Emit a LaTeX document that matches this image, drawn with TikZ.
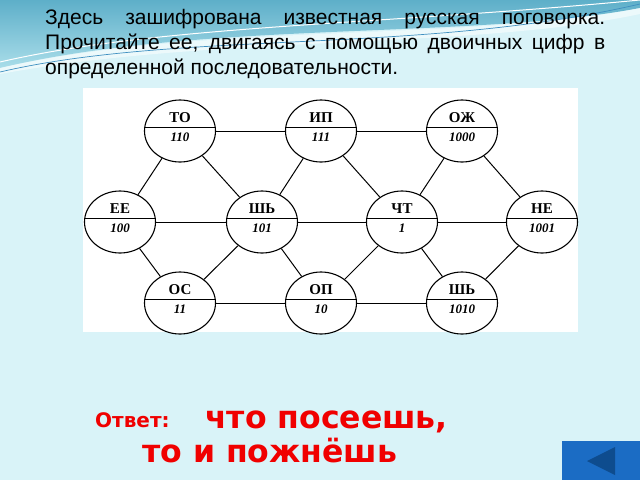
\documentclass[tikz,border=0pt]{standalone}
\usepackage{fontspec}
\setmainfont{Liberation Sans}
\newfontfamily\serifnode{Liberation Serif}
\newfontfamily\answerfont{DejaVu Sans}
\usepackage{tikz}
\usetikzlibrary{shapes.geometric, calc}

\definecolor{bgcyan}{HTML}{D9F3F8}
\definecolor{waveteal}{HTML}{5EAFC9}
\definecolor{wavelight}{HTML}{A9DDE9}
\definecolor{waveline}{HTML}{3E8FC0}
\definecolor{btnblue}{HTML}{1B6CC4}
\definecolor{btndark}{HTML}{0E4C8E}
\definecolor{answerred}{HTML}{F00000}

% one syllable circle: name, position, syllable, binary code
\newcommand{\wordcircle}[4]{%
  \node[word] (#1) at (#2) {};
  \draw[divider] ([yshift=4pt]#1.west) -- ([yshift=4pt]#1.east);
  \node[syll] (#1-s) at ($(#1)+(0,-9)$) {#3};
  \node[code] (#1-c) at ($(#1)+(0,10)$) {#4};
}

\begin{document}
\begin{tikzpicture}[x=1pt, y=-1pt,
    word/.style={ellipse, draw, line width=1.1pt, fill=white, minimum width=71pt, minimum height=62pt, inner sep=0pt},
    divider/.style={line width=1pt},
    syll/.style={font=\serifnode\bfseries\fontsize{15}{16}\selectfont, inner sep=0pt, anchor=base},
    code/.style={font=\serifnode\bfseries\itshape\fontsize{13}{14}\selectfont, inner sep=0pt, anchor=base},
    link/.style={line width=1pt},
    answer/.style={anchor=base west, inner sep=0pt, text=answerred}
]
\useasboundingbox (0,0) rectangle (640,480);

% slide background
\fill[bgcyan] (0,0) rectangle (640,480);
\shade[top color=waveteal, bottom color=wavelight]
  (0,0) -- (640,0) -- (640,8) .. controls (470,40) and (200,20) .. (0,68) -- cycle;
\fill[white, opacity=0.5] (0,68) .. controls (200,22) and (470,42) .. (640,8)
  -- (640,14) .. controls (470,50) and (220,34) .. (0,74) -- cycle;
\draw[waveline, line width=0.7pt] (0,72) .. controls (180,30) and (420,55) .. (640,4);
\draw[white, line width=1pt] (0,62) .. controls (160,25) and (380,25) .. (640,0);

% task text
\node[anchor=north west, inner sep=0pt, text width=560pt, align=justify,
      font=\fontsize{21}{25}\selectfont] (task) at (45,9)
  {\hyphenpenalty=10000\relax
   Здесь зашифрована известная русская поговорка.\linebreak
   Прочитайте ее, двигаясь с помощью двоичных цифр в\linebreak
   определенной последовательности.};

% diagram panel
\fill[white] (83,88) rectangle (578,332);

\wordcircle{to}{180,131}{ТО}{110}
\wordcircle{ip}{321,131}{ИП}{111}
\wordcircle{ozh}{462,131}{ОЖ}{1000}
\wordcircle{ee}{120,222}{ЕЕ}{100}
\wordcircle{shb}{262,222}{ШЬ}{101}
\wordcircle{cht}{402,222}{ЧТ}{1}
\wordcircle{ne}{542,222}{НЕ}{1001}
\wordcircle{os}{180,303}{ОС}{11}
\wordcircle{op}{321,303}{ОП}{10}
\wordcircle{shbb}{462,303}{ШЬ}{1010}

\foreach \a/\b in {to/ip, ip/ozh, ee/shb, shb/cht, cht/ne, os/op, op/shbb,
                   to/ee, to/shb, ip/shb, ip/cht, ozh/cht, ozh/ne,
                   ee/os, shb/os, shb/op, cht/op, cht/shbb, ne/shbb}
  \draw[link] (\a) -- (\b);

% answer
\node[answer, font=\answerfont\bfseries\fontsize{20}{22}\selectfont] (label) at (95,427) {Ответ:};
\node[answer, font=\answerfont\bfseries\fontsize{31.5}{34}\selectfont] (line1) at (205,428) {что посеешь,};
\node[answer, font=\answerfont\bfseries\fontsize{31.5}{34}\selectfont] (line2) at (142,462) {то и пожнёшь};

% back button
\fill[btnblue] (562,441) rectangle (640,480);
\fill[btndark] (587,461) -- (615,447) -- (615,475) -- cycle;
\end{tikzpicture}
\end{document}
